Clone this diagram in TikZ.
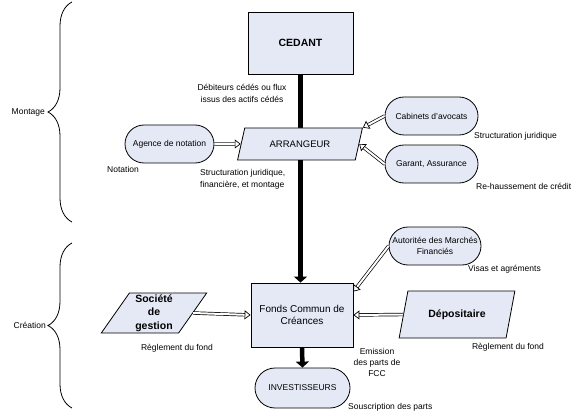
\documentclass[tikz,border=0pt]{standalone}
\usepackage{fontspec}
\setmainfont{Liberation Sans}
\usetikzlibrary{positioning, arrows.meta, shapes.geometric, shapes.misc, decorations.pathreplacing}
\definecolor{boxfill}{RGB}{228,233,245}

\begin{document}
\begin{tikzpicture}[x=1pt, y=1pt,
    block/.style={rectangle, draw, line width=0.8pt, fill=boxfill, inner sep=2pt, align=center},
    pill/.style={rounded rectangle, draw, line width=0.8pt, fill=boxfill, minimum width=97pt,
    minimum height=38pt, inner sep=2pt, align=center, font=\fontsize{8.5}{10.5}\selectfont},
    slant/.style={trapezium, trapezium stretches=true, draw, line width=0.8pt, fill=boxfill, inner sep=1pt, align=center},
    lbl/.style={font=\fontsize{8.5}{12}\selectfont, inner sep=0pt, align=center},
    bigarrow/.style={line width=4.5pt, -{Triangle[length=6pt, width=13pt]}},
    hollow/.style={double, double distance=2pt, line width=0.7pt, -{Triangle[open, length=6pt, width=9pt]}},
    curly/.style={decorate, decoration={brace, amplitude=24pt}, line width=0.8pt},
]

\useasboundingbox (0,0) rectangle (576,-417);

\node[block, minimum width=105pt, minimum height=62pt, font=\fontsize{10.5}{13}\selectfont\bfseries] (cedant) at (300.5,-43) {CEDANT};
\node[block, minimum width=102pt, minimum height=64pt, font=\fontsize{10}{12.5}\selectfont] (fcc) at (302,-315) {Fonds Commun de\\Créances};

\draw[bigarrow] (cedant.south) -- (cedant.south |- fcc.north);

\node[slant, trapezium left angle=65, trapezium right angle=115, minimum width=125pt, minimum height=32pt,
    font=\fontsize{9.5}{12}\selectfont] (arrangeur) at (300,-144) {ARRANGEUR};
\node[pill, minimum width=93pt] (notation) at (169.5,-144) {Agence de notation};
\node[pill] (avocats) at (431.5,-116) {Cabinets d'avocats};
\node[pill] (garant) at (431.5,-164) {Garant, Assurance};
\node[pill, minimum width=96pt] (amf) at (435,-246) {Autoritée des Marchés\\Financiés};
\node[slant, trapezium left angle=60, trapezium right angle=120, minimum width=106pt, minimum height=40pt,
    font=\fontsize{10.5}{13.5}\selectfont\bfseries] (gestion) at (154,-313) {Société\\de\\gestion};
\node[slant, trapezium left angle=66, trapezium right angle=114, minimum width=116pt, minimum height=47pt,
    font=\fontsize{10.5}{13}\selectfont\bfseries] (depositaire) at (457,-314.5) {Dépositaire};
\node[pill, minimum width=99pt, minimum height=40pt] (investisseurs) at (302.5,-388) {INVESTISSEURS};

\draw[hollow] (notation.east) -- (arrangeur.west);
\draw[hollow] (avocats.west) -- (arrangeur.top right corner);
\draw[hollow] (garant.west) -- (arrangeur.east);
\draw[hollow] (amf.west) -- ([yshift=-9pt]fcc.north east);
\draw[hollow] (gestion.east) -- (fcc.west);
\draw[hollow] (depositaire.west) -- (fcc.east);
\draw[bigarrow] (fcc.south) -- (investisseurs.north);

\draw[curly] (72,-222) -- (72,-2);
\draw[curly] (72,-408) -- (72,-243);
\node[lbl, anchor=east] (montage) at (45,-112) {Montage};
\node[lbl, anchor=east] (creation) at (46,-325.5) {Création};

\node[lbl] (flux) at (242,-93) {Débiteurs cédés ou flux\\issus des actifs cédés};
\node[lbl, anchor=west] (notlbl) at (107,-169) {Notation};
\node[lbl, anchor=north west, align=left] (montlbl) at (200,-169) {Structuration juridique,\\financière, et montage};
\node[lbl, anchor=west] (jurlbl) at (474,-136) {Structuration juridique};
\node[lbl, anchor=west] (credlbl) at (476,-186) {Re-haussement de crédit};
\node[lbl, anchor=west] (visalbl) at (468,-269) {Visas et agréments};
\node[lbl] (regl1) at (177,-348) {Règlement du fond};
\node[lbl] (regl2) at (508,-347) {Règlement du fond};
\node[lbl, font=\fontsize{8.5}{11}\selectfont] (emission) at (377,-362) {Emission\\des parts de\\FCC};
\node[lbl, anchor=west] (souslbl) at (348,-407) {Souscription des parts};

\end{tikzpicture}
\end{document}
